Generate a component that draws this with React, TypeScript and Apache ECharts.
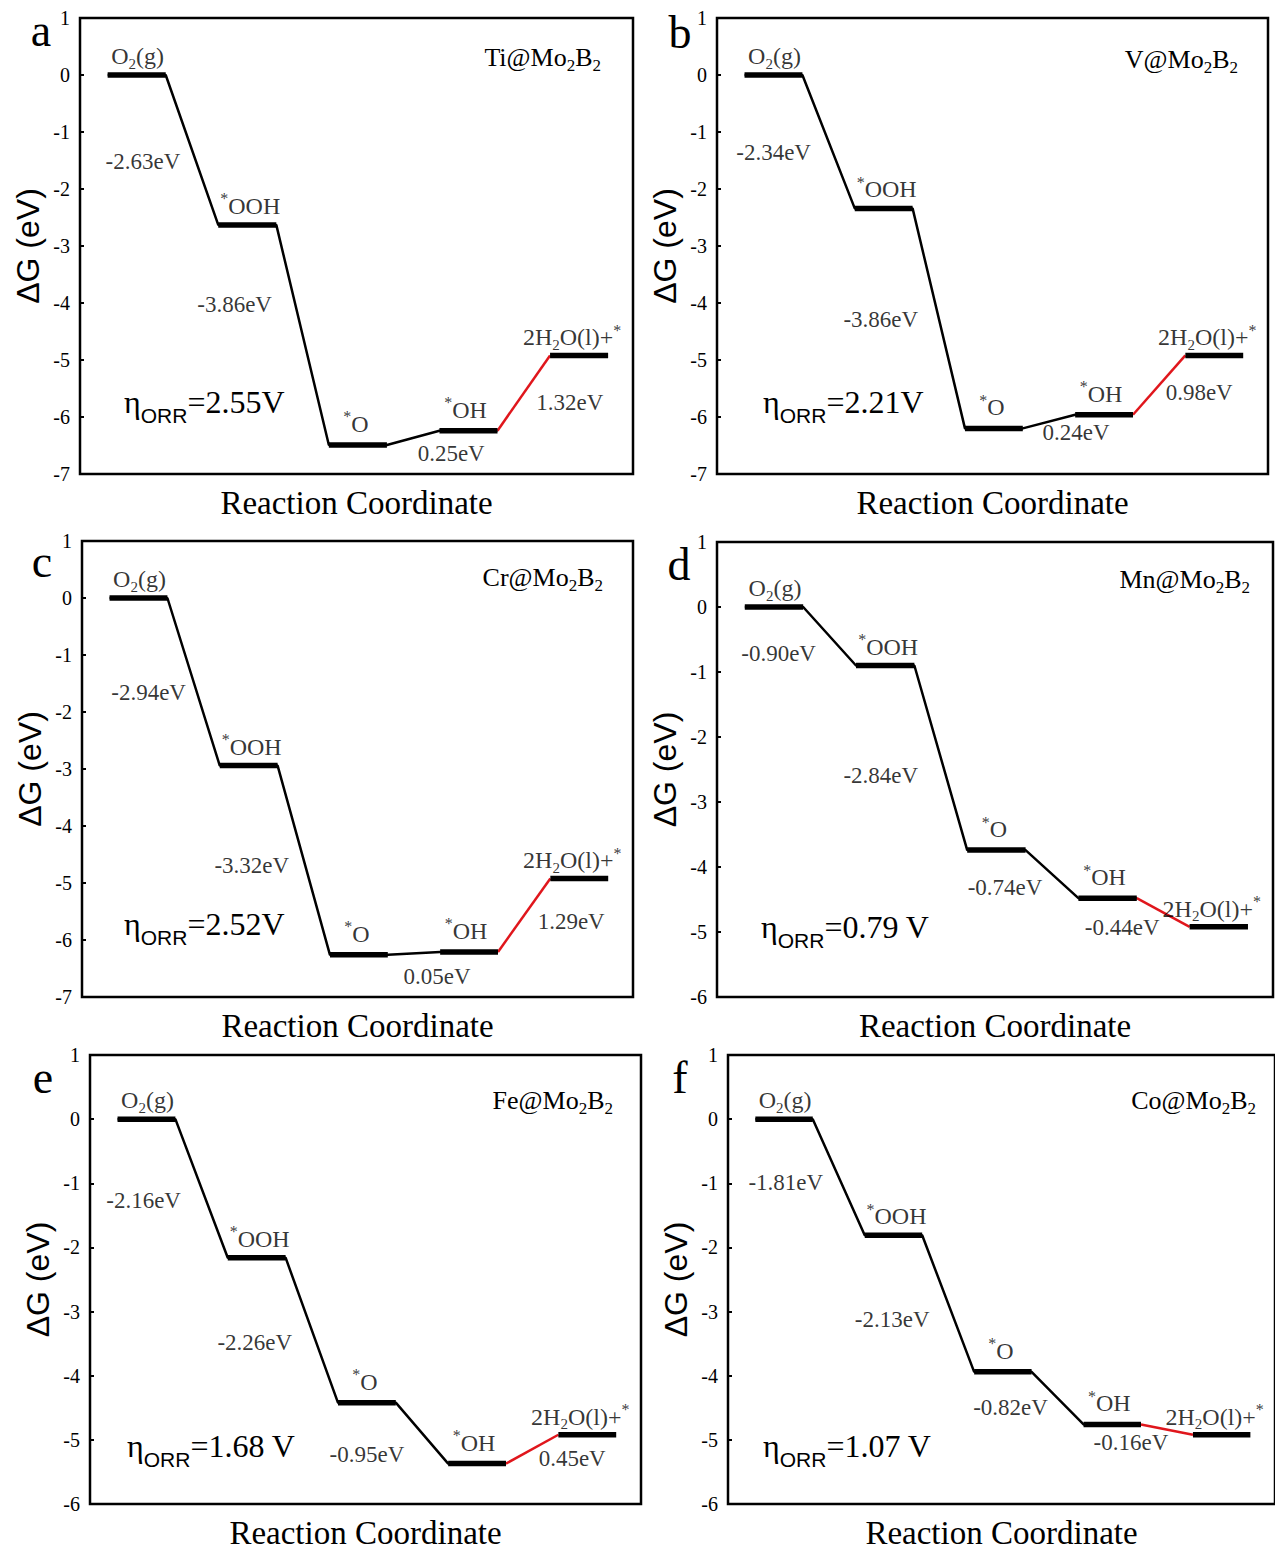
import { useEffect, useRef } from "react";
import * as echarts from "echarts";

// ---------- data ----------
const panelLetters = ["a", "b", "c", "d", "e", "f"];
const catalystNames = ["Ti@Mo2B2", "V@Mo2B2", "Cr@Mo2B2", "Mn@Mo2B2", "Fe@Mo2B2", "Co@Mo2B2"];
const stateNames = ["O2(g)", "*OOH", "*O", "*OH", "2H2O(l)+*"];

const levelsTi = [0, -2.63, -6.49, -6.24, -4.92];
const levelsV = [0, -2.34, -6.2, -5.96, -4.92];
const levelsCr = [0, -2.94, -6.26, -6.21, -4.92];
const levelsMn = [0, -0.9, -3.74, -4.48, -4.92];
const levelsFe = [0, -2.16, -4.42, -5.37, -4.92];
const levelsCo = [0, -1.81, -3.94, -4.76, -4.92];

const stepsTi = ["-2.63eV", "-3.86eV", "0.25eV", "1.32eV"];
const stepsV = ["-2.34eV", "-3.86eV", "0.24eV", "0.98eV"];
const stepsCr = ["-2.94eV", "-3.32eV", "0.05eV", "1.29eV"];
const stepsMn = ["-0.90eV", "-2.84eV", "-0.74eV", "-0.44eV"];
const stepsFe = ["-2.16eV", "-2.26eV", "-0.95eV", "0.45eV"];
const stepsCo = ["-1.81eV", "-2.13eV", "-0.82eV", "-0.16eV"];

const overpotentials = ["2.55V", "2.21V", "2.52V", "0.79 V", "1.68 V", "1.07 V"];
const yMinValues = [-7, -7, -7, -6, -6, -6];
const yMaxValue = 1;
const yAxisTitle = "ΔG (eV)";
const xAxisTitle = "Reaction Coordinate";

const allLevels = [levelsTi, levelsV, levelsCr, levelsMn, levelsFe, levelsCo];
const allSteps = [stepsTi, stepsV, stepsCr, stepsMn, stepsFe, stepsCo];

// ---------- layout / style ----------
const SERIF = "'Liberation Serif', 'Times New Roman', serif";
const SANS = "'Liberation Sans', Arial, sans-serif";
const INK = "#000";
const RED = "#e0161c";

const grids = [
  { left: 80, top: 18, width: 553, height: 456 },
  { left: 717, top: 18, width: 551, height: 456 },
  { left: 82, top: 541, width: 551, height: 456 },
  { left: 717, top: 542, width: 556, height: 455 },
  { left: 90, top: 1055, width: 551, height: 453 },
  { left: 728, top: 1055, width: 552, height: 453 },
];
const platStart = 0.5;
const platLen = 1.05;
const platStep = 2;

const stepOffsets = [
  [[-49, 12], [-68, -30], [38, 16], [46, 9]],
  [[-55, 11], [-58, 1], [27, 11], [40, 7]],
  [[-45, 11], [-52, 5], [23, 23], [47, 6]],
  [[-51, 17], [-60, 18], [-47, 13], [-41, 15]],
  [[-58, 12], [-57, 12], [-55, 21], [40, 9]],
  [[-53, 5], [-56, 16], [-47, 9], [-36, 13]],
];
const stateOffsets = [[1, -19], [3, -19], [-2, -21], [-3, -21], [-7, -18]];

const letterPos = [[41, 30], [680, 32], [42, 561], [679, 564], [43, 1077], [680, 1077]];
const etaPos = [[124, 402], [763, 402], [124, 924], [761, 927], [127, 1446], [763, 1446]];
const catPos = [[601, 57], [1238, 59], [603, 577], [1250, 579], [613, 1100], [1256, 1100]];

// turn "O2(g)" etc. into rich text with sub/superscripts
function richify(s: string): string {
  const parts: { t: string; k: string }[] = [];
  for (let i = 0; i < s.length; i++) {
    const c = s[i];
    let k = "n";
    if (c === "*") k = "p";
    else if (/[0-9]/.test(c) && i > 0 && /[A-Za-z]/.test(s[i - 1])) k = "s";
    const last = parts[parts.length - 1];
    if (last && last.k === k) last.t += c;
    else parts.push({ t: c, k });
  }
  return parts.map((p) => `{${p.k}|${p.t}}`).join("");
}

function buildOption() {
  const series: any[] = [];
  const xAxis: any[] = [];
  const yAxis: any[] = [];
  const grid: any[] = [];
  const graphic: any[] = [];

  const labelRich = {
    n: { fontSize: 24, fontFamily: SERIF, color: INK, lineHeight: 30 },
    s: { fontSize: 15, fontFamily: SERIF, color: INK, lineHeight: 12, verticalAlign: "bottom" },
    p: { fontSize: 16, fontFamily: SERIF, color: INK, lineHeight: 15, verticalAlign: "top" },
  };

  allLevels.forEach((levels, pi) => {
    const g = grids[pi];
    grid.push({
      left: g.left,
      top: g.top,
      width: g.width,
      height: g.height,
      show: true,
      borderColor: INK,
      borderWidth: 2.5,
      backgroundColor: "transparent",
    });
    xAxis.push({
      type: "value",
      gridIndex: pi,
      min: 0,
      max: 10,
      axisLine: { show: false },
      axisTick: { show: false },
      axisLabel: { show: false },
      splitLine: { show: false },
      name: xAxisTitle,
      nameLocation: "middle",
      nameGap: 12,
      nameTextStyle: { fontFamily: SERIF, fontSize: 33, color: INK, verticalAlign: "top" },
    });
    yAxis.push({
      type: "value",
      gridIndex: pi,
      min: yMinValues[pi],
      max: yMaxValue,
      interval: 1,
      axisLine: { show: false },
      axisTick: { show: true, inside: true, length: 4, lineStyle: { color: INK, width: 2 } },
      axisLabel: { fontFamily: SERIF, fontSize: 20, color: INK, margin: 10 },
      splitLine: { show: false },
      name: yAxisTitle,
      nameLocation: "middle",
      nameRotate: 90,
      nameGap: 36,
      nameTextStyle: { fontFamily: SANS, fontSize: 32, color: INK },
    });

    const xs = (i: number) => platStart + platStep * i;
    const xe = (i: number) => platStart + platStep * i + platLen;

    // black connecting path (first three connectors)
    const path: number[][] = [];
    for (let i = 0; i < 4; i++) {
      path.push([xs(i), levels[i]]);
      path.push([xe(i), levels[i]]);
    }
    series.push({
      type: "line",
      xAxisIndex: pi,
      yAxisIndex: pi,
      data: path,
      symbol: "none",
      lineStyle: { color: INK, width: 2.5 },
      z: 2,
      silent: true,
    });
    // red last connector
    series.push({
      type: "line",
      xAxisIndex: pi,
      yAxisIndex: pi,
      data: [
        [xe(3), levels[3]],
        [xs(4), levels[4]],
      ],
      symbol: "none",
      lineStyle: { color: RED, width: 2.5 },
      z: 3,
      silent: true,
    });
    // thick platforms
    levels.forEach((lv, i) => {
      series.push({
        type: "line",
        xAxisIndex: pi,
        yAxisIndex: pi,
        data: [
          [xs(i), lv],
          [xe(i), lv],
        ],
        symbol: "none",
        lineStyle: { color: "#000", width: 5.5, cap: "butt" },
        z: 4,
        silent: true,
      });
    });
    // state labels
    series.push({
      type: "scatter",
      xAxisIndex: pi,
      yAxisIndex: pi,
      symbolSize: 0,
      silent: true,
      z: 5,
      data: levels.map((lv, i) => ({
        value: [(xs(i) + xe(i)) / 2, lv],
        name: richify(stateNames[i]),
        label: { offset: stateOffsets[i] },
      })),
      label: {
        show: true,
        position: "inside",
        formatter: (p: any) => p.name,
        rich: labelRich,
      },
    });
    // step energy labels
    const steps = allSteps[pi];
    series.push({
      type: "scatter",
      xAxisIndex: pi,
      yAxisIndex: pi,
      symbolSize: 0,
      silent: true,
      z: 5,
      data: steps.map((txt, i) => ({
        value: [(xe(i) + xs(i + 1)) / 2, (levels[i] + levels[i + 1]) / 2],
        name: txt,
        label: { offset: stepOffsets[pi][i] },
      })),
      label: {
        show: true,
        position: "inside",
        formatter: (p: any) => p.name,
        fontFamily: SERIF,
        fontSize: 23,
        color: INK,
      },
    });

    // panel letter
    graphic.push({
      type: "text",
      x: letterPos[pi][0],
      y: letterPos[pi][1],
      style: {
        text: panelLetters[pi],
        fontFamily: SERIF,
        fontSize: 46,
        fill: INK,
        align: "center",
        verticalAlign: "middle",
      },
    });
    // catalyst label
    graphic.push({
      type: "text",
      x: catPos[pi][0],
      y: catPos[pi][1],
      style: {
        text: richify(catalystNames[pi]),
        align: "right",
        verticalAlign: "middle",
        rich: {
          n: { fontSize: 26, fontFamily: SERIF, fill: INK, lineHeight: 33 },
          s: { fontSize: 17, fontFamily: SERIF, fill: INK, lineHeight: 12, verticalAlign: "bottom" },
          p: { fontSize: 17, fontFamily: SERIF, fill: INK, lineHeight: 15, verticalAlign: "top" },
        },
      },
    });
    // overpotential
    graphic.push({
      type: "text",
      x: etaPos[pi][0],
      y: etaPos[pi][1],
      style: {
        text: `{e|η}{o|ORR}{v|=${overpotentials[pi]}}`,
        align: "left",
        verticalAlign: "middle",
        rich: {
          e: { fontSize: 32, fontFamily: SERIF, fill: INK, lineHeight: 47 },
          o: { fontSize: 21, fontFamily: SANS, fill: INK, lineHeight: 8, verticalAlign: "bottom" },
          v: { fontSize: 32, fontFamily: SERIF, fill: INK, lineHeight: 47 },
        },
      },
    });
  });

  return {
    animation: false,
    backgroundColor: "#fff",
    grid,
    xAxis,
    yAxis,
    series,
    graphic,
  };
}

export default function App() {
  const ref = useRef<HTMLDivElement>(null);
  useEffect(() => {
    if (!ref.current) return;
    const chart = echarts.init(ref.current, undefined, { renderer: "svg" });
    chart.setOption(buildOption() as any);
    return () => chart.dispose();
  }, []);
  return (
    <div
      ref={ref}
      style={{ position: "absolute", left: 0, top: 0, width: 1275, height: 1550, background: "#fff" }}
    />
  );
}
